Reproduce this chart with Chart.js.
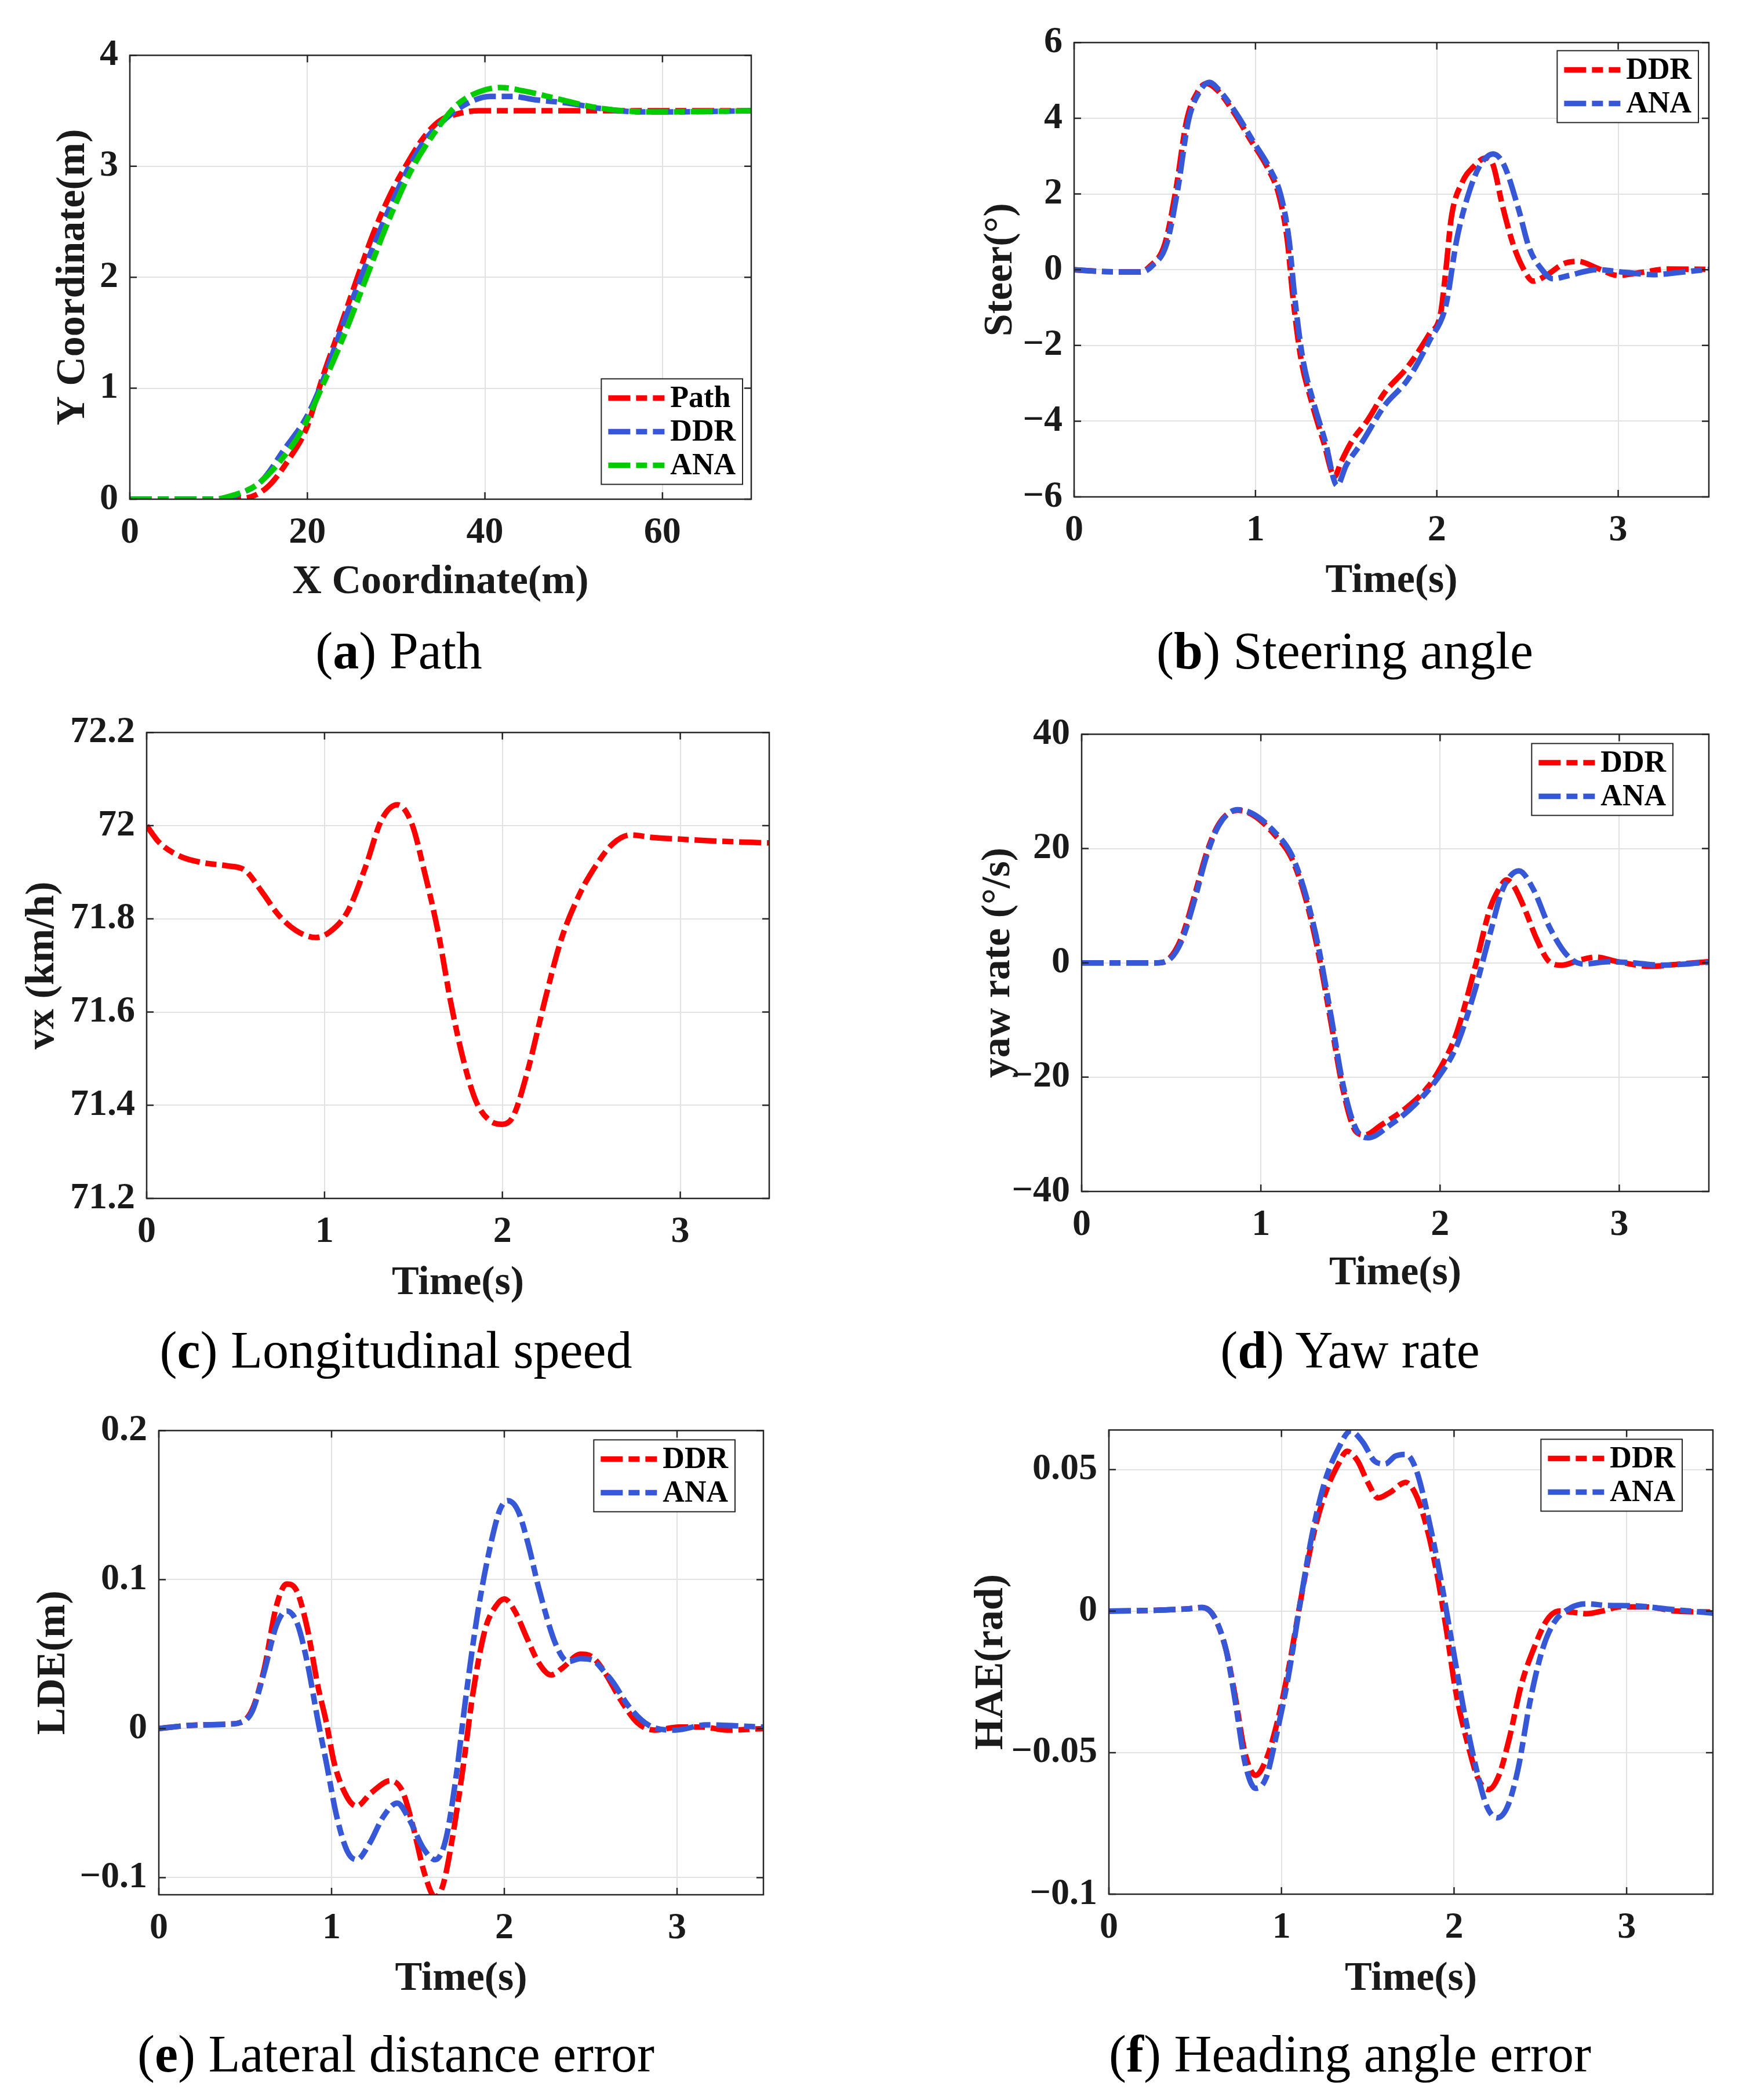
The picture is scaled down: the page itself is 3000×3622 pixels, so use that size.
<!DOCTYPE html>
<html>
<head>
<meta charset="utf-8">
<script src="https://cdn.jsdelivr.net/npm/chart.js@4.4.1/dist/chart.umd.min.js"></script>
<style>
html, body { margin: 0; padding: 0; background: #fff; overflow: hidden; }
#page { position: relative; width: 3000px; height: 3622px; background: #fff; overflow: hidden; }
#page canvas { position: absolute; }
.cap { position: absolute; transform: translate(-50%, -50%); font-family: "Liberation Serif", "Times New Roman", serif; font-size: 90px; color: #000; white-space: nowrap; }
</style>
</head>
<body>
<div id="page"></div>
<script>
// (a) path
const pathX = [0, 10.5, 13.0, 15.5, 18.0, 19.9, 21.8, 23.7, 25.6, 27.4, 29.3, 31.2, 33.1, 34.9, 36.8, 39.3, 70];
const pathY = [0, 0, 0.01, 0.11, 0.37, 0.64, 1.12, 1.55, 1.99, 2.39, 2.74, 3.02, 3.26, 3.41, 3.47, 3.50, 3.5];
const pathDdrX = [0, 9.9, 12.4, 14.9, 17.4, 19.9, 21.8, 23.7, 25.6, 28.0, 30.6, 33.1, 35.6, 38.1, 40.6, 43.1, 45.6, 49.3, 53.1, 57.5, 60.6, 70];
const pathDdrY = [0, 0, 0.05, 0.17, 0.45, 0.74, 1.08, 1.51, 1.91, 2.39, 2.86, 3.22, 3.43, 3.57, 3.63, 3.63, 3.60, 3.57, 3.52, 3.49, 3.49, 3.5];
const pathAnaX = [0, 9.3, 11.8, 14.3, 16.8, 19.3, 21.8, 24.3, 26.8, 29.3, 31.8, 34.3, 36.8, 39.3, 41.8, 44.3, 48.1, 51.8, 55.6, 59.4, 70];
const pathAnaY = [0, 0, 0.04, 0.13, 0.33, 0.61, 1.04, 1.51, 2.03, 2.54, 2.98, 3.30, 3.55, 3.67, 3.71, 3.68, 3.61, 3.54, 3.50, 3.49, 3.5];
const pathXTicks = [0, 20, 40, 60];
const pathYTicks = [0, 1, 2, 3, 4];

// (b) steering angle
const steerDdrT = [0, 0.175, 0.36, 0.42, 0.50, 0.56, 0.62, 0.68, 0.73, 0.79, 0.88, 0.975, 1.07, 1.13, 1.175, 1.206, 1.25, 1.31, 1.375, 1.437, 1.47, 1.53, 1.62, 1.71, 1.84, 1.96, 2.02, 2.05, 2.08, 2.14, 2.2, 2.27, 2.31, 2.36, 2.42, 2.48, 2.53, 2.61, 2.70, 2.78, 2.88, 3.0, 3.13, 3.28, 3.5];
const steerDdr = [0, -0.05, -0.06, 0.1, 0.68, 2.08, 3.93, 4.69, 4.92, 4.74, 4.16, 3.41, 2.66, 1.96, 0.8, -0.71, -2.33, -3.5, -4.54, -5.46, -5.1, -4.54, -3.96, -3.26, -2.56, -1.69, -1.17, 0, 1.38, 2.31, 2.71, 2.95, 2.77, 1.73, 0.68, 0, -0.3, -0.13, 0.16, 0.22, 0.05, -0.15, -0.07, 0.02, 0.01];
const steerAnaT = [0, 0.175, 0.37, 0.43, 0.51, 0.57, 0.63, 0.69, 0.745, 0.80, 0.89, 0.985, 1.08, 1.14, 1.185, 1.216, 1.26, 1.32, 1.385, 1.45, 1.50, 1.59, 1.71, 1.84, 1.96, 2.05, 2.11, 2.18, 2.24, 2.31, 2.37, 2.45, 2.51, 2.58, 2.64, 2.73, 2.88, 3.04, 3.19, 3.34, 3.5];
const steerAna = [0, -0.05, -0.06, 0.1, 0.68, 2.08, 3.93, 4.69, 4.95, 4.74, 4.16, 3.41, 2.66, 1.96, 0.8, -0.71, -2.33, -3.5, -4.54, -5.7, -5.17, -4.54, -3.6, -2.9, -1.87, -0.94, 0.8, 2.08, 2.77, 3.06, 2.77, 1.61, 0.57, 0, -0.24, -0.15, 0, -0.07, -0.13, -0.07, 0.01];
const steerYTicks = [-6, -4, -2, 0, 2, 4, 6];

// (c) longitudinal speed
const vxT = [0, 0.068, 0.19, 0.31, 0.45, 0.55, 0.65, 0.74, 0.84, 0.95, 1.03, 1.13, 1.23, 1.32, 1.41, 1.49, 1.56, 1.64, 1.71, 1.78, 1.85, 1.92, 2.0, 2.06, 2.14, 2.24, 2.33, 2.43, 2.53, 2.62, 2.72, 2.84, 2.96, 3.2, 3.5];
const vxDdr = [72.0, 71.965, 71.934, 71.921, 71.914, 71.905, 71.857, 71.809, 71.775, 71.760, 71.772, 71.816, 71.911, 72.012, 72.045, 72.005, 71.904, 71.769, 71.620, 71.498, 71.410, 71.370, 71.359, 71.376, 71.471, 71.627, 71.755, 71.850, 71.917, 71.961, 71.980, 71.975, 71.972, 71.967, 71.963];
const vxYTicks = [71.2, 71.4, 71.6, 71.8, 72, 72.2];

// (d) yaw rate
const yawDdrT = [0, 0.42, 0.49, 0.56, 0.63, 0.70, 0.77, 0.87, 0.96, 1.08, 1.17, 1.245, 1.32, 1.39, 1.46, 1.53, 1.58, 1.67, 1.81, 1.93, 2.0, 2.09, 2.19, 2.28, 2.33, 2.37, 2.41, 2.47, 2.54, 2.61, 2.68, 2.78, 2.87, 2.99, 3.18, 3.34, 3.5];
const yawDdr = [0, 0, 0.8, 4.6, 11.8, 19.5, 24.5, 26.7, 25.8, 22.3, 18.4, 11.8, 1.9, -10.2, -22.4, -29.5, -30.1, -28.4, -25.4, -21.8, -18.5, -12.5, -1.4, 9.6, 13.0, 14.5, 13.5, 9.6, 4.1, 0.2, -0.4, 0.5, 1.0, 0.2, -0.6, -0.2, 0.2];
const yawAnaT = [0, 0.42, 0.49, 0.56, 0.63, 0.70, 0.77, 0.87, 0.96, 1.08, 1.17, 1.245, 1.32, 1.39, 1.46, 1.53, 1.60, 1.72, 1.86, 2.0, 2.09, 2.19, 2.28, 2.35, 2.44, 2.52, 2.61, 2.71, 2.80, 2.94, 3.08, 3.23, 3.5];
const yawAna = [0, 0, 0.6, 4.0, 11.0, 19.0, 24.3, 26.8, 26.0, 22.8, 19.0, 12.5, 3.0, -9.0, -21.5, -29.0, -30.6, -28.4, -24.8, -19.6, -14.7, -5.3, 5.2, 12.9, 16.1, 12.9, 6.3, 1.3, -0.2, 0.2, 0, -0.4, 0.1];
const yawYTicks = [-40, -20, 0, 20, 40];

// (e) lateral distance error
const ldeDdrT = [0, 0.16, 0.40, 0.47, 0.54, 0.61, 0.68, 0.74, 0.80, 0.86, 0.92, 0.97, 1.015, 1.09, 1.145, 1.23, 1.34, 1.41, 1.47, 1.54, 1.60, 1.645, 1.70, 1.76, 1.82, 1.89, 1.95, 2.0, 2.06, 2.13, 2.20, 2.27, 2.34, 2.44, 2.51, 2.58, 2.675, 2.77, 2.87, 3.01, 3.15, 3.29, 3.5];
const ldeDdr = [0, 0.002, 0.003, 0.004, 0.0126, 0.040, 0.082, 0.097, 0.092, 0.067, 0.029, 0.004, -0.023, -0.046, -0.052, -0.043, -0.035, -0.042, -0.065, -0.098, -0.113, -0.105, -0.073, -0.027, 0.025, 0.067, 0.082, 0.087, 0.079, 0.061, 0.044, 0.036, 0.041, 0.050, 0.048, 0.038, 0.019, 0.004, -0.001, 0.001, 0.001, -0.001, 0];
const ldeAnaT = [0, 0.16, 0.40, 0.47, 0.54, 0.61, 0.68, 0.74, 0.80, 0.86, 0.92, 0.97, 1.03, 1.09, 1.145, 1.22, 1.30, 1.38, 1.45, 1.53, 1.60, 1.66, 1.72, 1.775, 1.845, 1.92, 1.975, 2.02, 2.08, 2.14, 2.20, 2.30, 2.37, 2.44, 2.51, 2.58, 2.63, 2.72, 2.84, 2.99, 3.17, 3.32, 3.5];
const ldeAna = [0, 0.002, 0.003, 0.004, 0.0115, 0.038, 0.069, 0.079, 0.071, 0.044, 0.006, -0.023, -0.059, -0.082, -0.088, -0.077, -0.059, -0.050, -0.061, -0.080, -0.088, -0.075, -0.033, 0.019, 0.077, 0.123, 0.147, 0.153, 0.146, 0.123, 0.094, 0.056, 0.045, 0.047, 0.046, 0.038, 0.031, 0.015, 0.002, -0.001, 0.0025, 0.002, 0.001];
const ldeYTicks = [-0.1, 0, 0.1, 0.2];

// (f) heading angle error
const haeDdrT = [0, 0.21, 0.45, 0.54, 0.61, 0.68, 0.73, 0.79, 0.85, 0.91, 0.97, 1.04, 1.11, 1.18, 1.25, 1.33, 1.38, 1.44, 1.50, 1.56, 1.63, 1.72, 1.78, 1.84, 1.90, 1.955, 2.01, 2.09, 2.14, 2.20, 2.26, 2.32, 2.39, 2.47, 2.54, 2.61, 2.70, 2.77, 2.87, 2.96, 3.11, 3.29, 3.5];
const haeDdr = [0, 0.0002, 0.0008, 0.0013, -0.002, -0.014, -0.0295, -0.0505, -0.058, -0.0526, -0.0406, -0.0207, 0.0035, 0.0256, 0.041, 0.052, 0.0565, 0.0532, 0.0455, 0.040, 0.042, 0.0455, 0.041, 0.030, 0.0135, -0.0064, -0.0284, -0.0494, -0.0593, -0.063, -0.058, -0.045, -0.026, -0.012, -0.003, 0, -0.0005, -0.0009, 0.0002, 0.0015, 0.0015, 0, -0.0003];
const haeAnaT = [0, 0.21, 0.45, 0.54, 0.61, 0.68, 0.73, 0.79, 0.85, 0.91, 0.97, 1.04, 1.11, 1.18, 1.25, 1.33, 1.40, 1.47, 1.54, 1.60, 1.66, 1.72, 1.78, 1.85, 1.92, 1.99, 2.06, 2.13, 2.19, 2.25, 2.31, 2.37, 2.44, 2.51, 2.58, 2.68, 2.77, 2.89, 3.04, 3.23, 3.5];
const haeAna = [0, 0.0002, 0.0008, 0.0013, -0.002, -0.014, -0.031, -0.054, -0.0626, -0.059, -0.044, -0.023, 0.0035, 0.0278, 0.0455, 0.0575, 0.0636, 0.0598, 0.053, 0.052, 0.0548, 0.0554, 0.050, 0.0333, 0.0123, -0.0119, -0.036, -0.056, -0.069, -0.073, -0.069, -0.056, -0.032, -0.014, -0.004, 0.0013, 0.0026, 0.002, 0.0019, 0.0008, -0.0007];
const haeYTicks = [-0.1, -0.05, 0, 0.05];

const timeTicks = [0, 1, 2, 3];

const FONT = '"Liberation Serif", "Times New Roman", serif';
const INK = '#1a1a1a';
const RED = '#ff0000', BLUE = '#3658d6', GREEN = '#00cc00';
const DASHDOT = [38, 10, 19, 10];

const fmt = v => String(v).replace('-', '\u2212');
const pts = (xs, ys) => xs.map((x, i) => ({ x: x, y: ys[i] }));

function line(label, xs, ys, color, order) {
    return {
        label: label,
        data: pts(xs, ys),
        borderColor: color,
        borderWidth: 9.5,
        borderDash: DASHDOT,
        pointRadius: 0,
        fill: false,
        cubicInterpolationMode: 'monotone',
        order: order
    };
}

// box, inner tick marks (MATLAB style)
const framePlugin = {
    id: 'frame',
    afterDatasetsDraw(chart) {
        const { ctx, chartArea: a, scales } = chart;
        const len = 12;
        ctx.save();
        ctx.strokeStyle = '#262626';
        ctx.lineWidth = 2.5;
        ctx.setLineDash([]);
        ctx.strokeRect(a.left, a.top, a.right - a.left, a.bottom - a.top);
        ctx.beginPath();
        scales.x.ticks.forEach(t => {
            const px = scales.x.getPixelForValue(t.value);
            ctx.moveTo(px, a.bottom); ctx.lineTo(px, a.bottom - len);
            ctx.moveTo(px, a.top); ctx.lineTo(px, a.top + len);
        });
        scales.y.ticks.forEach(t => {
            const py = scales.y.getPixelForValue(t.value);
            ctx.moveTo(a.left, py); ctx.lineTo(a.left + len, py);
            ctx.moveTo(a.right, py); ctx.lineTo(a.right - len, py);
        });
        ctx.stroke();
        ctx.restore();
    }
};

const legendPlugin = {
    id: 'boxLegend',
    afterDraw(chart, args, opts) {
        if (!opts || !opts.show) return;
        const { ctx, chartArea: a } = chart;
        const sets = chart.data.datasets;
        ctx.save();
        ctx.font = 'bold 52px ' + FONT;
        const tw = Math.max(...sets.map(d => ctx.measureText(d.label).width));
        const w = 12 + 97 + 10 + tw + 12, h = sets.length * 58 + 8;
        const x0 = a.right - opts.right - w, y0 = a.top + opts.top;
        ctx.fillStyle = '#fff';
        ctx.fillRect(x0, y0, w, h);
        ctx.strokeStyle = '#262626';
        ctx.lineWidth = 2;
        ctx.strokeRect(x0, y0, w, h);
        sets.forEach((d, i) => {
            const cy = y0 + 33 + i * 58;
            ctx.strokeStyle = d.borderColor;
            ctx.lineWidth = d.borderWidth;
            ctx.setLineDash(d.borderDash);
            ctx.beginPath();
            ctx.moveTo(x0 + 12, cy);
            ctx.lineTo(x0 + 109, cy);
            ctx.stroke();
            ctx.setLineDash([]);
            ctx.fillStyle = '#000';
            ctx.textBaseline = 'middle';
            ctx.textAlign = 'left';
            ctx.fillText(d.label, x0 + 119, cy + 2);
        });
        ctx.restore();
    }
};

const panels = [
    { plot: [224, 87, 1296, 861], yTitleX: 127, xTitleY: 1005, letter: 'a', caption: 'Path', capX: 688, capY: 1122,
      xTitle: 'X Coordinate(m)', yTitle: 'Y Coordinate(m)', xMin: 0, xMax: 70, yMin: 0, yMax: 4,
      xTicks: pathXTicks, yTicks: pathYTicks, legend: { show: true, right: 15, top: 558 },
      datasets: [line('Path', pathX, pathY, RED, 2), line('DDR', pathDdrX, pathDdrY, BLUE, 1), line('ANA', pathAnaX, pathAnaY, GREEN, 0)] },
    { plot: [1853, 65, 2948, 857], yTitleX: 1727, xTitleY: 1003, letter: 'b', caption: 'Steering angle', capX: 2320, capY: 1122,
      xTitle: 'Time(s)', yTitle: 'Steer(\u00b0)', xMin: 0, xMax: 3.5, yMin: -6, yMax: 6,
      xTicks: timeTicks, yTicks: steerYTicks, legend: { show: true, right: 18, top: 14 },
      datasets: [line('DDR', steerDdrT, steerDdr, RED, 1), line('ANA', steerAnaT, steerAna, BLUE, 0)] },
    { plot: [253, 1255, 1327, 2067], yTitleX: 74, xTitleY: 2214, letter: 'c', caption: 'Longitudinal speed', capX: 683, capY: 2328,
      xTitle: 'Time(s)', yTitle: 'vx (km/h)', xMin: 0, xMax: 3.5, yMin: 71.2, yMax: 72.2,
      xTicks: timeTicks, yTicks: vxYTicks, legend: { show: false },
      datasets: [line('DDR', vxT, vxDdr, RED, 0)] },
    { plot: [1866, 1258, 2948, 2055], yTitleX: 1723, xTitleY: 2197, letter: 'd', caption: 'Yaw rate', capX: 2329, capY: 2328,
      xTitle: 'Time(s)', yTitle: 'yaw rate (\u00b0/s)', xMin: 0, xMax: 3.5, yMin: -40, yMax: 40,
      xTicks: timeTicks, yTicks: yawYTicks, legend: { show: true, right: 62, top: 16 },
      datasets: [line('DDR', yawDdrT, yawDdr, RED, 1), line('ANA', yawAnaT, yawAna, BLUE, 0)] },
    { plot: [274, 2459, 1317, 3268], yTitleX: 93, xTitleY: 3414, letter: 'e', caption: 'Lateral distance error', capX: 683, capY: 3542,
      xTitle: 'Time(s)', yTitle: 'LDE(m)', xMin: 0, xMax: 3.5, yMin: -0.1115, yMax: 0.2,
      xTicks: timeTicks, yTicks: ldeYTicks, legend: { show: true, right: 49, top: 16 },
      datasets: [line('DDR', ldeDdrT, ldeDdr, RED, 1), line('ANA', ldeAnaT, ldeAna, BLUE, 0)] },
    { plot: [1913, 2458, 2955, 3267], yTitleX: 1711, xTitleY: 3414, letter: 'f', caption: 'Heading angle error', capX: 2329, capY: 3542,
      xTitle: 'Time(s)', yTitle: 'HAE(rad)', xMin: 0, xMax: 3.5, yMin: -0.1, yMax: 0.064,
      xTicks: timeTicks, yTicks: haeYTicks, legend: { show: true, right: 53, top: 16 },
      datasets: [line('DDR', haeDdrT, haeDdr, RED, 1), line('ANA', haeAnaT, haeAna, BLUE, 0)] }
];

const page = document.getElementById('page');

function axis(min, max, ticks, title, isX, size) {
    return {
        type: 'linear',
        min: min,
        max: max,
        afterBuildTicks: s => { s.ticks = ticks.map(v => ({ value: v })); },
        afterFit: s => { if (isX) s.height = size; else s.width = size; },
        grid: { color: '#e2e2e2', lineWidth: 2, drawTicks: false },
        border: { display: false },
        ticks: {
            font: { family: FONT, size: 64, weight: 'bold' },
            color: INK,
            padding: isX ? 20 : 20,
            maxRotation: 0,
            autoSkip: false,
            callback: v => fmt(v)
        },
        title: {
            display: true,
            text: title,
            color: INK,
            font: { family: FONT, size: 70, weight: 'bold' },
            padding: isX ? { top: 0, bottom: 8 } : { top: 8, bottom: 0 }
        }
    };
}

panels.forEach(p => {
    const left = p.yTitleX - 50, top = p.plot[1] - 50;
    const right = p.plot[2] + 30, bottom = p.xTitleY + 50;
    const W = p.plot[0] - left, H = bottom - p.plot[3];
    const cv = document.createElement('canvas');
    cv.width = right - left;
    cv.height = bottom - top;
    cv.style.left = left + 'px';
    cv.style.top = top + 'px';
    cv.style.width = (right - left) + 'px';
    cv.style.height = (bottom - top) + 'px';
    page.appendChild(cv);

    new Chart(cv.getContext('2d'), {
        type: 'line',
        data: { datasets: p.datasets },
        options: {
            responsive: false,
            animation: false,
            devicePixelRatio: 1,
            layout: { padding: { left: 0, top: 50, right: 30, bottom: 0 } },
            plugins: {
                legend: { display: false },
                tooltip: { enabled: false },
                boxLegend: p.legend
            },
            scales: {
                x: axis(p.xMin, p.xMax, p.xTicks, p.xTitle, true, H),
                y: axis(p.yMin, p.yMax, p.yTicks, p.yTitle, false, W)
            }
        },
        plugins: [framePlugin, legendPlugin]
    });

    const cap = document.createElement('div');
    cap.className = 'cap';
    cap.style.left = p.capX + 'px';
    cap.style.top = p.capY + 'px';
    cap.innerHTML = '(<b>' + p.letter + '</b>) ' + p.caption;
    page.appendChild(cap);
});
</script>
</body>
</html>
